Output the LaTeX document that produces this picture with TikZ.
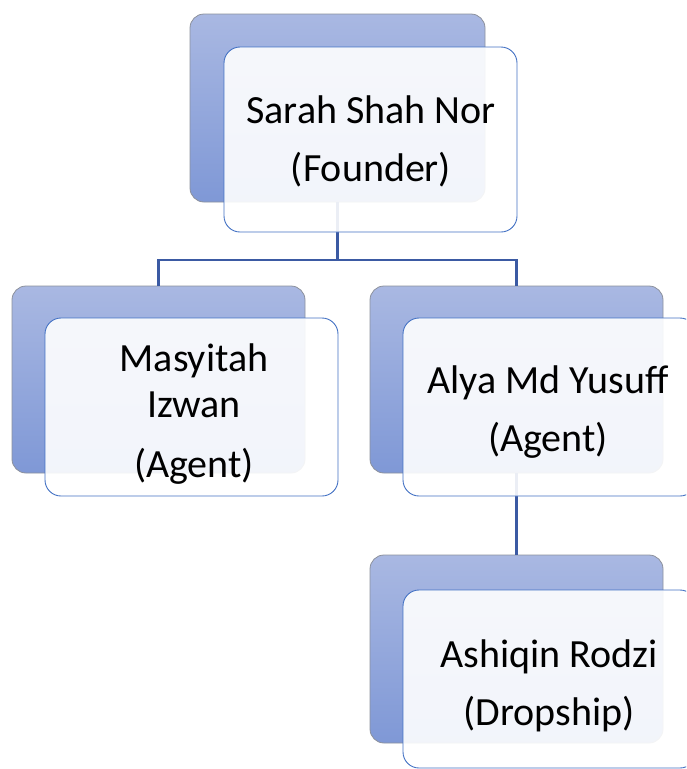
\documentclass[tikz,border=0pt]{standalone}
\usepackage{fontspec}
\setmainfont{Carlito}
\definecolor{backtop}{HTML}{A9B8E2}
\definecolor{backbot}{HTML}{7F98D6}
\definecolor{backedge}{HTML}{8C919C}
\definecolor{frontedge}{HTML}{4472C4}
\definecolor{conn}{HTML}{3B5AA3}
\tikzset{
  backbox/.style={rectangle, rounded corners=14pt, inner sep=0pt,
    minimum width=293pt, minimum height=187pt,
    top color=backtop, bottom color=backbot, draw=backedge, line width=0.8pt},
  frontbox/.style={rectangle, rounded corners=16pt, inner sep=0pt,
    minimum width=293pt, draw=frontedge, line width=0.9pt,
    fill=white, fill opacity=0.9, draw opacity=1},
  label/.style={align=center, inner sep=0pt, text=black,
    font=\fontsize{40}{46}\selectfont},
  link/.style={draw=conn, line width=2.6pt}
}
\begin{document}
\begin{tikzpicture}[x=1pt,y=-1pt]
\clip (0,0) rectangle (686,769);
% back boxes
\node[backbox, minimum width=295pt, minimum height=188pt] (tb) at (337.5,108) {};
\node[backbox] (lb) at (158.5,379.5) {};
\node[backbox] (rb) at (516.5,379.5) {};
\node[backbox, minimum height=188pt] (bb) at (516.5,649) {};
% connectors
\coordinate (bar) at (337.5,260);
\draw[link] (tb.south) -- (bar) -| (lb.north);
\draw[link] (bar) -| (rb.north);
\draw[link] (rb.south) -- (bb.north);
% front boxes
\node[frontbox, minimum height=185pt] (tf) at (370.5,139.5) {};
\node[frontbox, minimum height=178pt] (lf) at (191.5,407) {};
\node[frontbox, minimum height=178pt] (rf) at (549.5,407) {};
\node[frontbox, minimum height=178pt] (bf) at (549.5,679) {};
% labels
\node[label] (tl) at (371,141) {Sarah Shah Nor\\[12pt](Founder)};
\node[label] (ll) at (194,414) {Masyitah\\Izwan\\[14pt](Agent)};
\node[label] (rl) at (548,412) {Alya Md Yusuff\\[12pt](Agent)};
\node[label] (bl) at (549,686) {Ashiqin Rodzi\\[12pt](Dropship)};
\end{tikzpicture}
\end{document}
